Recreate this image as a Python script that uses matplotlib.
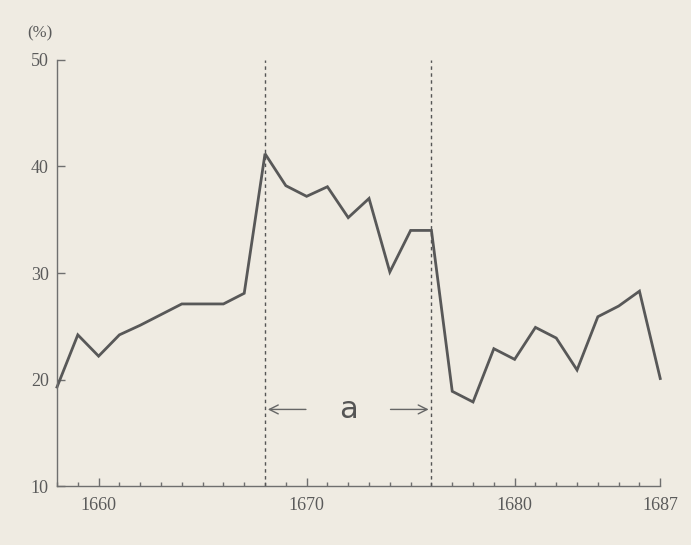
import numpy as np
import matplotlib
matplotlib.use("Agg")
import matplotlib.pyplot as plt

# datos
years = list(range(1658, 1688))
values = [19.3, 24.2, 22.2, 24.2, 25.1, 26.1, 27.1, 27.1, 27.1, 28.1,
          41.2, 38.2, 37.2, 38.1, 35.2, 37.0, 30.1, 34.0, 34.0, 18.9,
          17.9, 22.9, 21.9, 24.9, 23.9, 20.9, 25.9, 26.9, 28.3, 20.1]
xticks = [1660, 1670, 1680, 1687]
yticks = [10, 20, 30, 40, 50]
period = (1668, 1676)

bg = "#efebe2"
axcol = "#6f6f6f"
txtcol = "#5a5a5a"

fig = plt.figure(figsize=(6.91, 5.45), dpi=100, facecolor=bg)
ax = fig.add_axes([0.0825, 0.108, 0.873, 0.782], facecolor=bg)

ax.plot(years, values, color="#585858", lw=2.0, solid_joinstyle="miter", clip_on=False)

for yr in period:
    ax.axvline(yr, color="#555555", lw=1.0, ls=(0, (2.5, 2.5)))

# flechas del periodo a
ymid = 17.2
ax.annotate("", xy=(period[0], ymid), xytext=(period[0] + 2.1, ymid),
            arrowprops=dict(arrowstyle="->", color="#666666", lw=1.0, mutation_scale=16))
ax.annotate("", xy=(period[1], ymid), xytext=(period[1] - 2.1, ymid),
            arrowprops=dict(arrowstyle="->", color="#666666", lw=1.0, mutation_scale=16))
ax.text(sum(period) / 2, ymid, "a", ha="center", va="center", fontsize=22,
        color="#555555", family="DejaVu Sans")

ax.set_xlim(1658, 1687)
ax.set_ylim(10, 50)
ax.set_xticks(xticks)
ax.set_xticks(years, minor=True)
ax.set_yticks(yticks)

for s in ["top", "right"]:
    ax.spines[s].set_visible(False)
for s in ["left", "bottom"]:
    ax.spines[s].set_color(axcol)
    ax.spines[s].set_linewidth(1.0)

ax.tick_params(axis="both", which="major", direction="in", length=6, width=1,
               color=axcol, labelcolor=txtcol, labelsize=13)
ax.tick_params(axis="x", which="minor", direction="in", length=3, width=1, color=axcol)
ax.tick_params(axis="x", which="major", pad=8)
ax.tick_params(axis="y", which="major", pad=6)
for lab in ax.get_xticklabels() + ax.get_yticklabels():
    lab.set_family("Liberation Serif")

fig.text(40 / 691, 1 - 33 / 545, "(%)", ha="center", va="center", fontsize=12,
         color=txtcol, family="Liberation Serif")

fig.savefig("out.png", dpi=100, facecolor=bg)
